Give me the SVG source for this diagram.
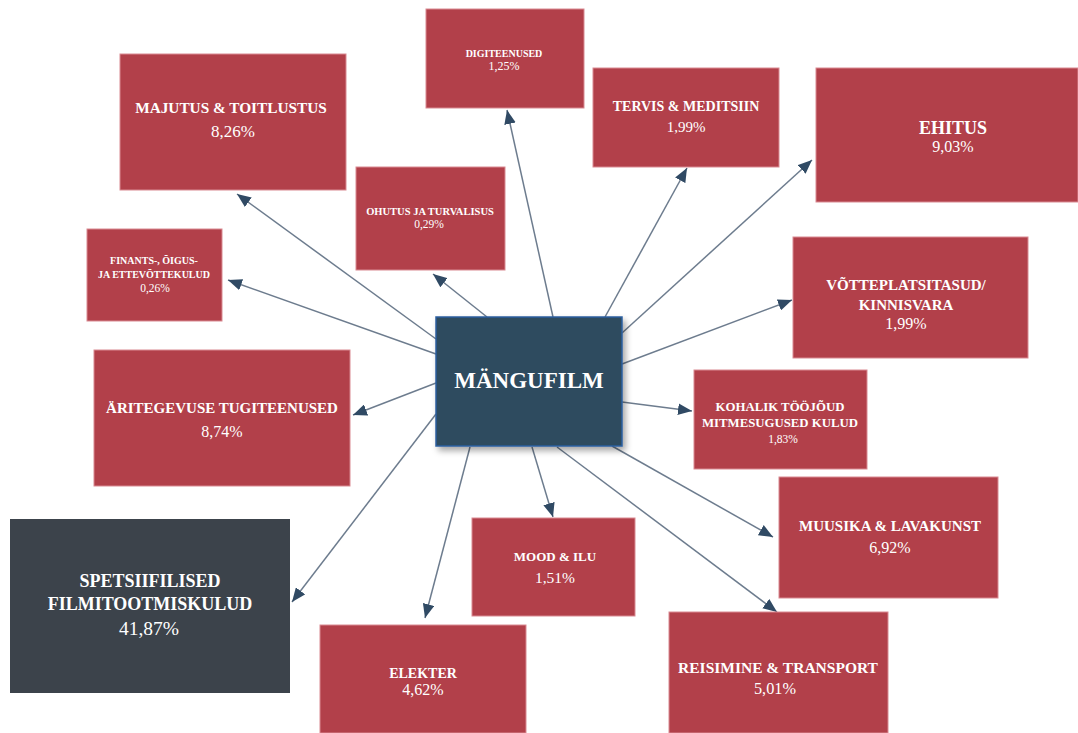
<svg xmlns="http://www.w3.org/2000/svg" width="1078" height="733" viewBox="0 0 1078 733">
<defs>
<marker id="arr" viewBox="0 0 12 10" refX="12" refY="5" markerWidth="14" markerHeight="12" markerUnits="userSpaceOnUse" orient="auto">
<path d="M0,0 L12,5 L0,10 Z" fill="#304a64"/>
</marker>
<filter id="sh" x="-10%" y="-10%" width="125%" height="130%">
<feDropShadow dx="3" dy="4" stdDeviation="3" flood-color="#000" flood-opacity="0.35"/>
</filter>
<style>
.box{fill:#b2404a;stroke:#d98a92;stroke-width:1}
.dark{fill:#3c434b}
.ctr{fill:#2f4b5e;stroke:#2c5fa0;stroke-width:1.5}
text{font-family:"Liberation Serif","DejaVu Serif",serif;fill:#ffffff;text-anchor:middle}
.t{font-weight:bold}
.c line{stroke:#6d7c8e;stroke-width:1.5;marker-end:url(#arr)}
</style>
</defs>
<rect width="1078" height="733" fill="#ffffff"/>

<g class="c" id="connectors">
<line x1="553" y1="317" x2="507" y2="110"/>
<line x1="436" y1="339" x2="237" y2="194"/>
<line x1="436" y1="354" x2="228" y2="280"/>
<line x1="487" y1="317" x2="433" y2="274"/>
<line x1="605" y1="317" x2="687" y2="168"/>
<line x1="622" y1="333" x2="812" y2="160"/>
<line x1="622" y1="364" x2="792" y2="300"/>
<line x1="622" y1="402" x2="692" y2="411"/>
<line x1="436" y1="383" x2="353" y2="415"/>
<line x1="436" y1="414" x2="292" y2="602"/>
<line x1="470" y1="447" x2="425" y2="618"/>
<line x1="532" y1="447" x2="553" y2="517"/>
<line x1="557" y1="447" x2="777" y2="612"/>
<line x1="612" y1="446" x2="773" y2="537"/>
</g>

<g id="digiteenused">
<rect class="box" x="426" y="9" width="158" height="99"/>
<text class="t" x="504" y="57" font-size="10">DIGITEENUSED</text>
<text x="504" y="70" font-size="12">1,25%</text>
</g>

<g id="majutus">
<rect class="box" x="120" y="54" width="226" height="136"/>
<text class="t" x="231" y="113" font-size="15.3">MAJUTUS &amp; TOITLUSTUS</text>
<text x="233" y="137" font-size="17">8,26%</text>
</g>

<g id="tervis">
<rect class="box" x="593" y="68" width="186" height="99"/>
<text class="t" x="686" y="111" font-size="14">TERVIS &amp; MEDITSIIN</text>
<text x="686" y="132" font-size="15">1,99%</text>
</g>

<g id="ehitus">
<rect class="box" x="816" y="68" width="262" height="134"/>
<text class="t" x="953" y="134" font-size="18">EHITUS</text>
<text x="953" y="152" font-size="16">9,03%</text>
</g>

<g id="ohutus">
<rect class="box" x="356" y="167" width="149" height="103"/>
<text class="t" x="430" y="215" font-size="10.5">OHUTUS JA TURVALISUS</text>
<text x="429" y="228" font-size="11.5">0,29%</text>
</g>

<g id="finants">
<rect class="box" x="87" y="229" width="135" height="92"/>
<text class="t" x="154" y="264" font-size="10">FINANTS-, ÕIGUS-</text>
<text class="t" x="154" y="278" font-size="10">JA ETTEVÕTTEKULUD</text>
<text x="155" y="292" font-size="11.5">0,26%</text>
</g>

<g id="votteplatsitasud">
<rect class="box" x="793" y="237" width="235" height="121"/>
<text class="t" x="906" y="290" font-size="15">VÕTTEPLATSITASUD/</text>
<text class="t" x="906" y="310" font-size="15">KINNISVARA</text>
<text x="906" y="329" font-size="16">1,99%</text>
</g>

<g id="mangufilm">
<rect class="ctr" x="436" y="317" width="186" height="129" filter="url(#sh)"/>
<text class="t" x="529" y="388" font-size="23">MÄNGUFILM</text>
</g>

<g id="aritegevuse">
<rect class="box" x="94" y="350" width="256" height="136"/>
<text class="t" x="222" y="413" font-size="15">ÄRITEGEVUSE TUGITEENUSED</text>
<text x="222" y="437" font-size="16">8,74%</text>
</g>

<g id="kohalik">
<rect class="box" x="694" y="370" width="173" height="99"/>
<text class="t" x="780" y="411" font-size="12.8">KOHALIK TÖÖJÕUD</text>
<text class="t" x="780" y="427" font-size="12.8">MITMESUGUSED KULUD</text>
<text x="783" y="443" font-size="11.5">1,83%</text>
</g>

<g id="spetsiifilised">
<rect class="dark" x="10" y="519" width="280" height="174"/>
<text class="t" x="150" y="587" font-size="18">SPETSIIFILISED</text>
<text class="t" x="150" y="610" font-size="18">FILMITOOTMISKULUD</text>
<text x="149" y="635" font-size="19.5">41,87%</text>
</g>

<g id="mood">
<rect class="box" x="472" y="518" width="163" height="98"/>
<text class="t" x="555" y="561" font-size="13">MOOD &amp; ILU</text>
<text x="555" y="583" font-size="15.5">1,51%</text>
</g>

<g id="muusika">
<rect class="box" x="779" y="477" width="219" height="121"/>
<text class="t" x="890" y="531" font-size="15">MUUSIKA &amp; LAVAKUNST</text>
<text x="890" y="553" font-size="16">6,92%</text>
</g>

<g id="elekter">
<rect class="box" x="320" y="625" width="206" height="108"/>
<text class="t" x="423" y="678" font-size="14">ELEKTER</text>
<text x="423" y="695" font-size="16">4,62%</text>
</g>

<g id="reisimine">
<rect class="box" x="669" y="612" width="219" height="121"/>
<text class="t" x="778" y="673" font-size="15.5">REISIMINE &amp; TRANSPORT</text>
<text x="775" y="694" font-size="16.3">5,01%</text>
</g>
</svg>
